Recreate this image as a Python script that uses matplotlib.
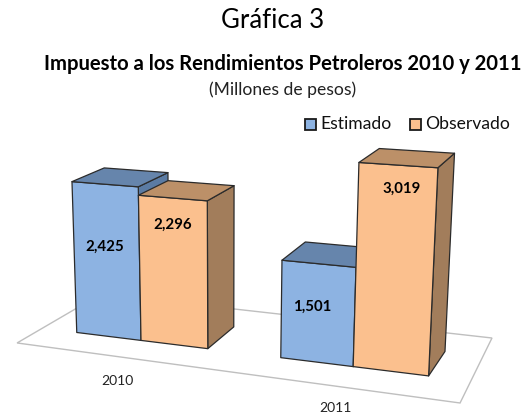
import numpy as np
import matplotlib
matplotlib.use('Agg')
import matplotlib.pyplot as plt
from matplotlib.patches import Polygon, Rectangle

years = ['2010', '2011']
series = ['Estimado', 'Observado']
estimado = [2425, 1501]
observado = [2296, 3019]
value_labels = {'e': ['2,425', '1,501'], 'o': ['2,296', '3,019']}

# camera of the oblique 3D chart: (position, depth, value in thousands) -> pixels
CAM = np.array([[61.602473, 145.027091, -2.904888, 76.755713],
                [1.520406, -20.712694, -64.572156, 332.484452],
                [-0.01883, 0.192693, -0.013002, 1.0]])
GROUP_X = [0.0, 3.05]
DEPTH = 0.25
FLOOR = [(-0.568, -0.173), (5.613, -0.197), (5.544, 0.445), (-0.51, 0.451)]

BLUE = dict(front='#8DB3E2', top='#6685AC', side='#5B7BA3')
ORANGE = dict(front='#FBC08E', top='#BC9068', side='#A27D5B')
EDGE = '#2B2B2B'

def proj(x, y, v):
    p = CAM @ np.array([x, y, v / 1000.0, 1.0])
    return p[0] / p[2], p[1] / p[2]

fig = plt.figure(figsize=(5.26, 4.15), dpi=100)
ax = fig.add_axes([0, 0, 1, 1])
ax.set_xlim(0, 526)
ax.set_ylim(415, 0)
ax.axis('off')

ax.add_patch(Polygon([proj(x, y, 0) for x, y in FLOOR], closed=True, fc='white',
                     ec='#BFBFBF', lw=1.0, zorder=1))

def bar(x0, value, col, z):
    x1 = x0 + 1
    d = DEPTH
    faces = [
        ('side', [(x1, 0, 0), (x1, d, 0), (x1, d, value), (x1, 0, value)]),
        ('front', [(x0, 0, 0), (x1, 0, 0), (x1, 0, value), (x0, 0, value)]),
        ('top', [(x0, 0, value), (x1, 0, value), (x1, d, value), (x0, d, value)]),
    ]
    for name, pts in faces:
        ax.add_patch(Polygon([proj(*p) for p in pts], closed=True, fc=col[name],
                             ec=EDGE, lw=0.9, joinstyle='round', zorder=z))

for i, gx in enumerate(GROUP_X):
    bar(gx, estimado[i], BLUE, 2 + 2 * i)
    bar(gx + 1, observado[i], ORANGE, 3 + 2 * i)

FONT = 'Lato'
label_pos = {'e': [(105, 247), (312, 307)], 'o': [(173, 225), (402, 189)]}
for key in 'eo':
    for (x, y), s in zip(label_pos[key], value_labels[key]):
        ax.text(x, y, s, ha='center', va='center', fontsize=10.8, fontweight='bold',
                family=FONT, color='black', zorder=10)

ax.text(273, 20, 'Gráfica 3', ha='center', va='center', fontsize=18.5, family=FONT)
ax.text(283, 64, 'Impuesto a los Rendimientos Petroleros 2010 y 2011', ha='center', va='center',
        fontsize=14.6, fontweight='bold', family=FONT)
ax.text(283, 90, '(Millones de pesos)', ha='center', va='center', fontsize=12.6, family=FONT,
        color='#222222')

for (sx, tx), col, name in zip([(304.5, 320), (410, 425)], [BLUE, ORANGE], series):
    ax.add_patch(Rectangle((sx, 119), 11, 11, fc=col['front'], ec='#1A1A1A', lw=1.3, zorder=5))
    ax.text(tx, 124, name, ha='left', va='center', fontsize=12.6, family=FONT, color='#111111')

ax.text(117, 381, years[0], ha='center', va='center', fontsize=10, family=FONT, color='#222222')
ax.text(335, 408, years[1], ha='center', va='center', fontsize=10, family=FONT, color='#222222')

fig.savefig('out.png', dpi=100)
